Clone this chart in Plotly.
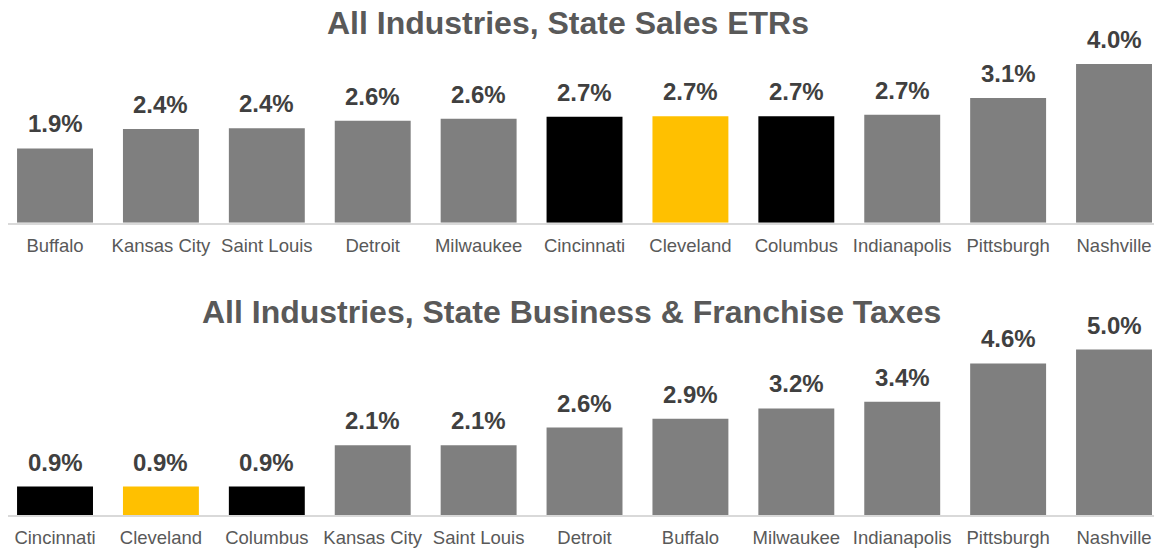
import plotly.graph_objects as go
from plotly.subplots import make_subplots

# Panel 1: State Sales ETRs
sales_cities = ["Buffalo", "Kansas City", "Saint Louis", "Detroit", "Milwaukee",
                "Cincinnati", "Cleveland", "Columbus", "Indianapolis", "Pittsburgh", "Nashville"]
sales_values = [1.87, 2.36, 2.38, 2.57, 2.62, 2.67, 2.68, 2.68, 2.72, 3.14, 4.00]

# Panel 2: State Business & Franchise Taxes
biz_cities = ["Cincinnati", "Cleveland", "Columbus", "Kansas City", "Saint Louis",
              "Detroit", "Buffalo", "Milwaukee", "Indianapolis", "Pittsburgh", "Nashville"]
biz_values = [0.86, 0.86, 0.86, 2.11, 2.11, 2.64, 2.91, 3.22, 3.42, 4.58, 5.00]

titles = ["All Industries, State Sales ETRs",
          "All Industries, State Business & Franchise Taxes"]

GRAY = "#7F7F7F"
BLACK = "#000000"
YELLOW = "#FFC000"
highlight = {"Cincinnati": BLACK, "Cleveland": YELLOW, "Columbus": BLACK}

FONT = "Liberation Sans, Arial, sans-serif"

# page shows the figure offset by the default 8px body margin
W, H = 1154, 540
B = 33
PH = H - B  # plot-area height

fig = make_subplots(rows=2, cols=1)

for row, (cats, vals) in enumerate([(sales_cities, sales_values), (biz_cities, biz_values)], start=1):
    colors = [highlight.get(c, GRAY) for c in cats]
    fig.add_trace(go.Bar(x=cats, y=vals, marker=dict(color=colors, line=dict(width=0)),
                         hoverinfo="x+y", showlegend=False), row=row, col=1)
    xref = "x" if row == 1 else "x2"
    yref = "y" if row == 1 else "y2"
    for c, v in zip(cats, vals):
        fig.add_annotation(x=c, y=v, xref=xref, yref=yref, text=f"<b>{v:.1f}%</b>",
                           showarrow=False, yanchor="bottom", yshift=9,
                           font=dict(family=FONT, size=24, color="#404040"))

xr = [-0.444, 10.453]
axis_common = dict(domain=[0, 1], range=xr, showgrid=False, showline=True,
                   linecolor="#D9D9D9", linewidth=1.5, ticks="outside", ticklen=5,
                   tickcolor="rgba(0,0,0,0)", tickfont=dict(size=18.5, color="#595959"))

top_base = 214.7
fig.update_layout(
    width=W, height=H,
    margin=dict(l=0, r=0, t=0, b=B),
    paper_bgcolor="white", plot_bgcolor="white",
    bargap=0.283,
    font=dict(family=FONT, color="#595959"),
    xaxis=dict(**axis_common),
    xaxis2=dict(**axis_common),
    yaxis=dict(domain=[(PH - top_base) / PH, 1.0], range=[0, top_base / 39.7], visible=False),
    yaxis2=dict(domain=[0.0, 0.45], range=[0, 0.45 * PH / 33.1], visible=False),
)

fig.add_annotation(text=f"<b>{titles[0]}</b>", xref="paper", yref="paper",
                   x=560 / W, y=1 - 14.5 / PH, yanchor="middle", showarrow=False,
                   font=dict(family=FONT, size=32, color="#595959"))
fig.add_annotation(text=f"<b>{titles[1]}</b>", xref="paper", yref="paper",
                   x=563 / W, y=1 - 304 / PH, yanchor="middle", showarrow=False,
                   font=dict(family=FONT, size=32, color="#595959"))

fig.write_html("out.html")
